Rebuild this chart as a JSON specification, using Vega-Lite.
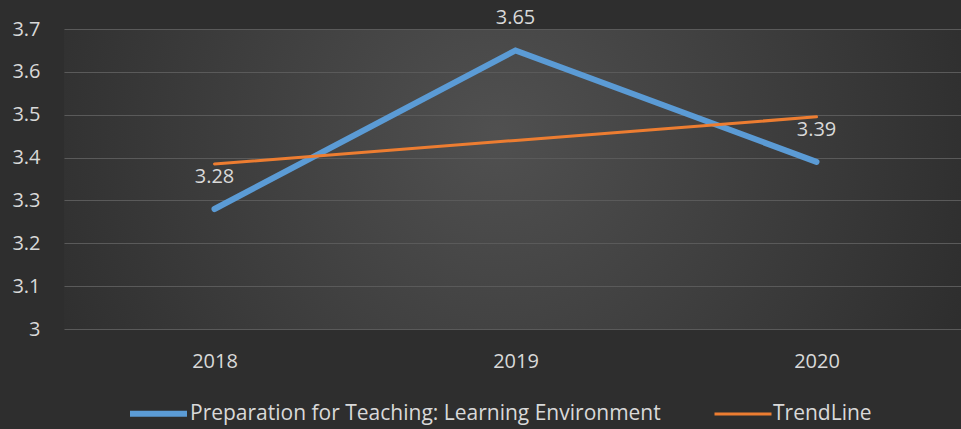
{
  "$schema": "https://vega.github.io/schema/vega-lite/v6.json",
  "width": 903,
  "height": 300,
  "autosize": {"type": "none"},
  "padding": {"left": 64, "top": 29, "right": 0, "bottom": 100},
  "background": "#2e2e2e",
  "config": {
    "font": "Open Sans",
    "view": {
      "stroke": null,
      "fill": {
        "gradient": "radial",
        "x1": 0.48, "y1": 0.45, "r1": 0,
        "x2": 0.48, "y2": 0.45, "r2": 0.55,
        "stops": [
          {"offset": 0, "color": "#505050"},
          {"offset": 1, "color": "#2e2e2e"}
        ]
      }
    }
  },
  "data": {
    "values": [
      {"year": "2018", "series": "Preparation for Teaching: Learning Environment", "value": 3.28},
      {"year": "2019", "series": "Preparation for Teaching: Learning Environment", "value": 3.65},
      {"year": "2020", "series": "Preparation for Teaching: Learning Environment", "value": 3.39},
      {"year": "2018", "series": "TrendLine", "value": 3.385},
      {"year": "2019", "series": "TrendLine", "value": 3.44},
      {"year": "2020", "series": "TrendLine", "value": 3.495}
    ]
  },
  "encoding": {
    "x": {
      "field": "year",
      "type": "ordinal",
      "scale": {"type": "point", "padding": 0.5},
      "axis": {
        "title": null,
        "labelAngle": 0,
        "labelFontSize": 20,
        "labelColor": "#d9d9d9",
        "labelPadding": 22,
        "ticks": false,
        "domain": false,
        "grid": false
      }
    },
    "y": {
      "field": "value",
      "type": "quantitative",
      "scale": {"domain": [3, 3.7], "nice": false, "zero": false},
      "axis": {
        "title": null,
        "values": [3, 3.1, 3.2, 3.3, 3.4, 3.5, 3.6, 3.7],
        "format": ".1~f",
        "labelFontSize": 20,
        "labelColor": "#d9d9d9",
        "labelPadding": 24,
        "ticks": false,
        "domain": false,
        "grid": true,
        "gridColor": "#5a5a5a",
        "gridWidth": 1
      }
    }
  },
  "layer": [
    {
      "mark": {"type": "line", "strokeCap": "round", "strokeJoin": "miter"},
      "encoding": {
        "color": {
          "field": "series",
          "type": "nominal",
          "scale": {
            "domain": ["Preparation for Teaching: Learning Environment", "TrendLine"],
            "range": ["#5b9bd5", "#ed7d31"]
          },
          "legend": {
            "title": null,
            "orient": "none",
            "legendX": 63,
            "legendY": 353,
            "direction": "horizontal",
            "symbolType": "stroke",
            "symbolSize": 3249,
            "labelFontSize": 21,
            "labelLimit": 0,
            "labelColor": "#d9d9d9",
            "labelOffset": 0,
            "columnPadding": 47
          }
        },
        "strokeWidth": {
          "field": "series",
          "type": "nominal",
          "scale": {
            "domain": ["Preparation for Teaching: Learning Environment", "TrendLine"],
            "range": [6, 3]
          },
          "legend": null
        }
      }
    },
    {
      "transform": [{"filter": "datum.series !== 'TrendLine'"}],
      "mark": {"type": "text", "dy": -32, "fontSize": 20, "color": "#d9d9d9"},
      "encoding": {
        "text": {"field": "value", "type": "quantitative", "format": ".2f"}
      }
    }
  ]
}
